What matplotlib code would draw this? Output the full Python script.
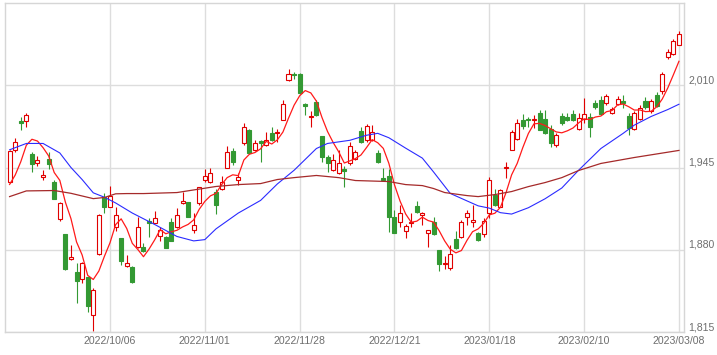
import matplotlib
matplotlib.use("Agg")
import matplotlib.pyplot as plt
import numpy as np

# ---------------- data ----------------
trading_days = {
    "2022/09": [8, 9, 12, 13, 14, 15, 16, 20, 21, 22, 26, 27, 28, 29, 30],
    "2022/10": [3, 4, 5, 6, 7, 11, 12, 13, 14, 17, 18, 19, 20, 21, 24, 25, 26, 27, 28, 31],
    "2022/11": [1, 2, 4, 7, 8, 9, 10, 11, 14, 15, 16, 17, 18, 21, 22, 24, 25, 28, 29, 30],
    "2022/12": [1, 2, 5, 6, 7, 8, 9, 12, 13, 14, 15, 16, 19, 20, 21, 22, 23, 26, 27, 28, 29, 30],
    "2023/01": [4, 5, 6, 10, 11, 12, 13, 16, 17, 18, 19, 20, 23, 24, 25, 26, 27, 30, 31],
    "2023/02": [1, 2, 3, 6, 7, 8, 9, 10, 13, 14, 15, 16, 17, 20, 21, 22, 24, 27, 28],
    "2023/03": [1, 2, 3, 6, 7, 8],
}
dates = [f"{m}/{d:02d}" for m, ds in trading_days.items() for d in ds]

opens = [1933.7, 1958.7, 1981.8, 1981.6, 1955.5, 1948.2, 1937.6, 1951.6, 1933.7, 1904.2,
         1892.4, 1872.9, 1862.6, 1856.6, 1858.7, 1828.4, 1876.6, 1921.8, 1913.9, 1898.1,
         1889.0, 1867.3, 1866.5, 1882.3, 1881.9, 1902.6, 1901.4, 1890.8, 1890.2, 1902.1,
         1898.1, 1916.6, 1917.4, 1895.5, 1916.6, 1935.0, 1933.2, 1926.0, 1928.4, 1945.0,
         1958.2, 1935.0, 1964.0, 1975.0, 1958.7, 1965.8, 1962.6, 1972.4, 1972.4, 1982.9,
         2013.9, 2019.2, 2019.2, 1994.8, 1985.0, 1996.8, 1969.7, 1953.4, 1942.9, 1940.3,
         1944.2, 1948.2, 1952.1, 1974.0, 1966.6, 1967.1, 1956.6, 1936.9, 1938.2, 1905.6,
         1902.1, 1894.7, 1900.8, 1914.5, 1907.2, 1893.4, 1902.1, 1879.7, 1868.7, 1865.3,
         1888.2, 1890.2, 1905.6, 1902.1, 1892.9, 1892.1, 1909.2, 1923.2, 1914.0, 1944.7,
         1959.2, 1967.9, 1982.9, 1983.7, 1982.9, 1987.7, 1983.7, 1975.8, 1962.6, 1985.5,
         1985.0, 1987.1, 1975.8, 1983.7, 1985.0, 1995.6, 1998.2, 1995.6, 1988.4, 1995.0,
         1997.4, 1986.0, 1975.3, 1983.7, 1997.4, 1989.5, 2002.5, 2005.3, 2032.3, 2035.0,
         2042.1]
highs = [1958.5, 1968.7, 1985.0, 1987.7, 1957.3, 1953.9, 1943.4, 1957.3, 1935.0, 1917.9,
         1892.5, 1883.7, 1869.7, 1870.5, 1858.7, 1849.5, 1908.0, 1924.5, 1930.5, 1913.4,
         1889.5, 1875.8, 1867.0, 1906.0, 1885.0, 1904.8, 1910.8, 1897.7, 1890.5, 1904.8,
         1912.7, 1925.8, 1917.5, 1908.7, 1929.7, 1944.2, 1944.7, 1928.4, 1938.4, 1961.8,
         1960.3, 1940.3, 1980.2, 1975.8, 1966.6, 1967.1, 1973.1, 1977.1, 1975.8, 1998.2,
         2023.2, 2020.5, 2020.0, 1996.0, 1989.7, 1998.7, 1970.0, 1954.7, 1955.3, 1959.2,
         1946.0, 1965.2, 1959.2, 1977.1, 1979.2, 1978.4, 1959.2, 1945.0, 1944.2, 1911.3,
         1915.3, 1900.3, 1908.7, 1918.4, 1910.0, 1895.7, 1905.6, 1880.0, 1875.0, 1883.7,
         1895.0, 1903.4, 1911.3, 1915.3, 1894.3, 1904.8, 1937.1, 1928.4, 1928.4, 1949.5,
         1974.5, 1983.7, 1987.1, 1985.0, 1986.3, 1990.8, 1990.8, 1978.4, 1971.9, 1987.7,
         1987.7, 1990.3, 1987.7, 2000.0, 1987.7, 1998.2, 2001.6, 2002.9, 1992.9, 2001.6,
         2002.0, 1987.7, 1989.5, 1994.2, 2000.8, 1998.9, 2004.7, 2020.5, 2038.4, 2046.9,
         2052.6]
lows = [1933.0, 1957.3, 1974.5, 1977.1, 1941.6, 1946.0, 1935.0, 1944.2, 1920.0, 1902.9,
        1864.0, 1871.8, 1837.6, 1853.4, 1831.0, 1816.0, 1876.0, 1909.2, 1913.5, 1895.0,
        1867.9, 1866.0, 1854.0, 1881.0, 1878.4, 1890.2, 1900.9, 1887.0, 1881.0, 1887.0,
        1896.9, 1916.5, 1905.5, 1893.4, 1915.3, 1933.7, 1933.0, 1908.0, 1927.0, 1944.5,
        1946.8, 1931.0, 1962.6, 1956.0, 1958.2, 1949.5, 1961.8, 1966.0, 1965.2, 1982.4,
        2013.4, 2015.3, 2003.0, 1986.3, 1977.1, 1985.5, 1949.5, 1941.6, 1942.4, 1939.7,
        1929.7, 1946.8, 1950.8, 1964.5, 1965.3, 1966.0, 1948.7, 1934.5, 1894.2, 1893.0,
        1897.7, 1889.0, 1897.7, 1909.3, 1899.5, 1881.9, 1891.6, 1863.4, 1865.0, 1864.0,
        1880.3, 1889.4, 1899.5, 1898.1, 1887.0, 1890.2, 1905.0, 1914.5, 1913.4, 1936.8,
        1958.7, 1967.1, 1975.8, 1977.1, 1976.6, 1974.5, 1971.3, 1961.3, 1961.3, 1978.4,
        1981.8, 1981.8, 1974.5, 1979.8, 1969.2, 1991.6, 1986.3, 1994.2, 1986.9, 1994.2,
        1992.2, 1970.5, 1974.5, 1982.4, 1991.6, 1988.4, 1992.9, 2003.4, 2030.5, 2034.2,
        2041.6]
closes = [1957.9, 1965.2, 1979.8, 1986.3, 1947.4, 1950.8, 1939.0, 1947.4, 1920.5, 1916.6,
          1864.5, 1874.0, 1855.3, 1869.2, 1835.8, 1848.2, 1907.4, 1913.5, 1922.6, 1907.4,
          1871.3, 1869.2, 1854.7, 1898.1, 1879.2, 1901.4, 1905.3, 1895.5, 1881.6, 1887.1,
          1907.4, 1918.4, 1905.6, 1899.5, 1929.2, 1938.4, 1940.3, 1915.3, 1933.7, 1957.3,
          1949.5, 1937.1, 1977.1, 1956.6, 1964.0, 1964.0, 1966.6, 1966.6, 1973.1, 1994.8,
          2018.7, 2017.9, 2003.9, 1993.7, 1985.5, 1986.3, 1953.4, 1948.2, 1950.8, 1948.2,
          1942.1, 1961.8, 1957.3, 1965.3, 1977.6, 1973.1, 1949.5, 1935.0, 1905.6, 1893.4,
          1908.7, 1898.7, 1902.1, 1910.0, 1909.3, 1895.5, 1892.4, 1868.4, 1869.2, 1876.6,
          1881.1, 1901.6, 1908.7, 1903.4, 1887.6, 1903.0, 1935.0, 1915.3, 1927.1, 1945.5,
          1973.1, 1980.2, 1977.6, 1982.9, 1983.7, 1975.0, 1971.9, 1964.5, 1970.5, 1980.2,
          1982.9, 1982.9, 1984.5, 1986.9, 1977.1, 1992.9, 1986.9, 2001.6, 1991.6, 1999.5,
          1996.3, 1976.1, 1988.4, 1992.1, 1992.9, 1997.4, 1993.7, 2019.2, 2036.3, 2044.7,
          2050.8]
# closes of the 4 sessions before the first visible one (for the 5-day average)
prior_closes = [1928.2, 1927.3, 1920.8, 1923.8]

# 25-day moving average, read at these sessions
ma25_day = [0, 3, 6, 9, 11, 13, 15, 17, 19, 22, 26, 30, 33, 35, 37, 41, 45, 48, 51, 55,
            57, 61, 64, 66, 68, 71, 74, 76, 79, 82, 84, 86, 88, 90, 93, 96, 99, 102, 106,
            110, 112, 115, 118, 120]
ma25_val = [1959.0, 1964.0, 1964.0, 1956.5, 1945.0, 1935.5, 1925.0, 1921.5, 1917.0, 1909.0,
            1900.0, 1890.5, 1887.0, 1888.0, 1896.5, 1909.0, 1919.0, 1932.0, 1942.8, 1960.0,
            1964.0, 1966.5, 1970.5, 1972.0, 1968.5, 1960.3, 1952.4, 1941.5, 1924.5, 1918.6,
            1914.7, 1912.9, 1909.3, 1908.2, 1913.2, 1920.3, 1928.8, 1942.8, 1960.0, 1972.0,
            1978.5, 1985.3, 1990.8, 1995.0]

# 75-day moving average, read at these sessions
ma75_day = [0, 3, 8, 11, 15, 17, 19, 21, 24, 30, 37, 41, 45, 48, 51, 55, 59, 62, 68, 71,
            74, 76, 78, 82, 84, 87, 90, 93, 96, 99, 102, 106, 112, 120]
ma75_val = [1922.0, 1926.5, 1926.8, 1924.6, 1920.4, 1921.3, 1924.2, 1924.4, 1924.4, 1925.2,
            1930.0, 1931.5, 1932.3, 1935.5, 1937.0, 1938.7, 1937.0, 1934.7, 1933.9, 1931.5,
            1930.7, 1928.4, 1925.2, 1922.8, 1922.0, 1923.6, 1926.0, 1929.9, 1933.1, 1937.0,
            1942.6, 1948.2, 1952.9, 1958.5]

tick_dates = ["2022/10/06", "2022/11/01", "2022/11/28", "2022/12/21",
              "2023/01/18", "2023/02/10", "2023/03/08"]
price_ticks = [1815, 1880, 1945, 2010]

# ---------------- plot ----------------
W, H = 717, 355
fig = plt.figure(figsize=(W / 100, H / 100), dpi=100)
ax = fig.add_axes([5 / W, 23 / H, 679 / W, 329 / H])

o = np.array(opens); c = np.array(closes)
hi = np.array(highs); lo = np.array(lows)
x = np.arange(len(c))
up = c >= o

RED = "#e00000"
GREEN = "#339933"
edge = np.where(up, RED, GREEN)
face = np.where(up, "white", GREEN)

ax.vlines(x, lo, hi, colors=edge, linewidth=0.8, zorder=2)
body_h = np.maximum(np.abs(c - o), 0.5)
ax.bar(x, body_h, bottom=np.minimum(o, c), width=0.72, color=face,
       edgecolor=edge, linewidth=0.8, zorder=3)

allc = np.concatenate([prior_closes, c])
ma5 = np.convolve(allc, np.ones(5) / 5, mode="valid")
ax.plot(x, ma5, color="#ff1a1a", linewidth=0.9, zorder=4)
ax.plot(ma25_day, ma25_val, color="#2b2bff", linewidth=0.8, zorder=4)
ax.plot(ma75_day, ma75_val, color="#a52a2a", linewidth=0.9, zorder=4)

x0 = 9.6
ax.set_xlim((5 - x0) / 5.578 - 0.0, (684 - x0) / 5.578)
ax.set_ylim(1815, 2075)

ax.set_xticks([dates.index(d) for d in tick_dates])
ax.set_xticklabels(tick_dates)
ax.set_yticks(price_ticks)
ax.set_yticklabels([f"{v:,}" for v in price_ticks])
ax.yaxis.tick_right()

for lab in ax.get_xticklabels() + ax.get_yticklabels():
    lab.set_fontfamily("Liberation Sans")
    lab.set_fontsize(7.6)
    lab.set_color("#6e6e6e")
for lab in ax.get_yticklabels():
    lab.set_va("bottom")

ax.tick_params(axis="both", length=0)
ax.tick_params(axis="x", pad=3.2)
ax.tick_params(axis="y", pad=3.0)

ax.grid(True, color="#dddddd", linewidth=1.0, zorder=0)
ax.set_axisbelow(True)
for s in ax.spines.values():
    s.set_color("#d6d6d6")
    s.set_linewidth(1.0)

fig.savefig("out.png", dpi=100, facecolor="white")
